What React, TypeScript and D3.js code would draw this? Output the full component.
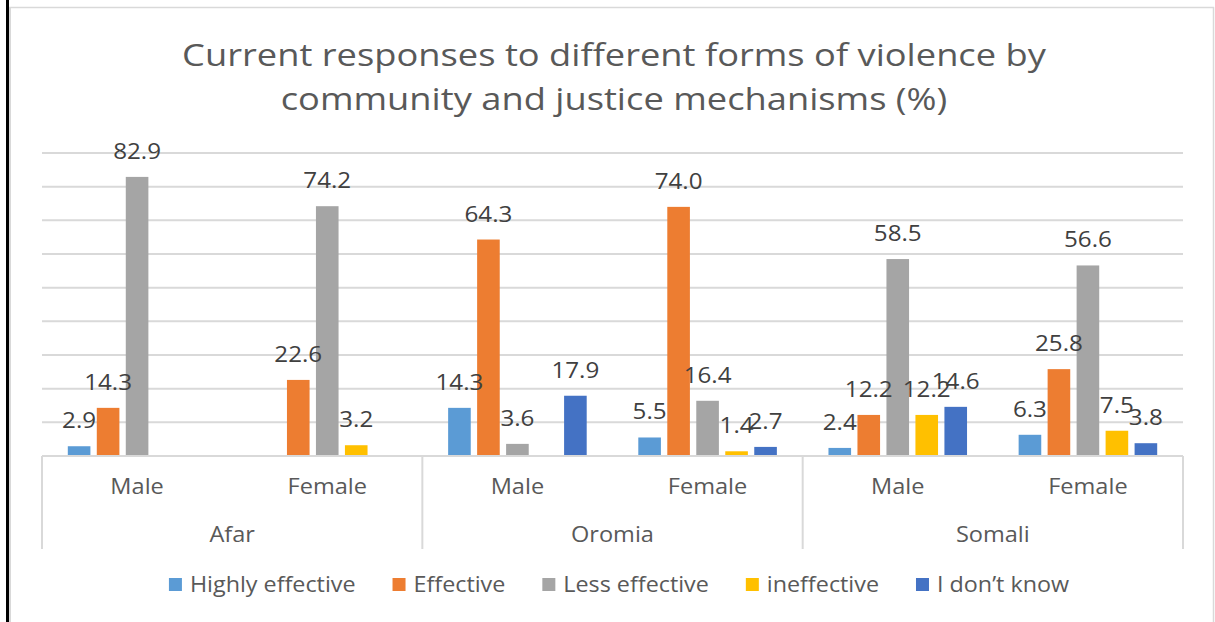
import React, { useEffect, useRef } from "react";
import * as d3 from "d3";

// Groups on the category axis: gender within region
const regions = ["Afar", "Oromia", "Somali"];
const genders = ["Male", "Female"];

// Response series, one value per region/gender group (null = no bar)
const seriesNames = ["Highly effective", "Effective", "Less effective", "ineffective", "I don\u2019t know"];
const highlyEffective = [2.9, null, 14.3, 5.5, 2.4, 6.3];
const effective = [14.3, 22.6, 64.3, 74.0, 12.2, 25.8];
const lessEffective = [82.9, 74.2, 3.6, 16.4, 58.5, 56.6];
const ineffective = [null, 3.2, null, 1.4, 12.2, 7.5];
const dontKnow = [null, null, 17.9, 2.7, 14.6, 3.8];
const seriesColors = ["#5B9BD5", "#ED7D31", "#A5A5A5", "#FFC000", "#4472C4"];
const yTicks = [0, 10, 20, 30, 40, 50, 60, 70, 80, 90];

const titleLines = [
  "Current responses to different forms of violence by",
  "community and justice mechanisms (%)",
];

const W = 1215;
const H = 622;
const FONT = "'Open Sans', 'Noto Sans', sans-serif";

// Widen a text element horizontally by factor k (keeps its anchor)
function widen(sel: d3.Selection<SVGTextElement, any, any, any>, k: number) {
  sel.each(function () {
    const len = this.getComputedTextLength();
    d3.select(this).attr("textLength", len * k).attr("lengthAdjust", "spacingAndGlyphs");
  });
}

export default function App() {
  const ref = useRef<SVGSVGElement | null>(null);

  useEffect(() => {
    const svg = d3.select(ref.current);
    svg.selectAll("*").remove();

    const plotLeft = 42;
    const plotRight = 1183;
    const baseY = 456;
    const topY = 153;

    const series = [highlyEffective, effective, lessEffective, ineffective, dontKnow];
    const groups: string[] = [];
    regions.forEach((r) => genders.forEach((g) => groups.push(`${r}|${g}`)));

    const x0 = d3.scaleBand<string>().domain(groups).range([plotLeft, plotRight]).padding(0);
    const x1 = d3
      .scaleBand<number>()
      .domain(d3.range(series.length))
      .range([0, x0.bandwidth()])
      .paddingInner(0.22)
      .paddingOuter(0.89);
    const y = d3.scaleLinear().domain([0, 90]).range([baseY, topY]);

    // Frame
    svg.append("rect").attr("x", 0).attr("y", 0).attr("width", W).attr("height", H).attr("fill", "#fff");
    svg.append("line").attr("x1", 8).attr("x2", 1214).attr("y1", 7.5).attr("y2", 7.5)
      .attr("stroke", "#d9d9d9").attr("stroke-width", 1.5);
    svg.append("line").attr("x1", 1213.5).attr("x2", 1213.5).attr("y1", 7).attr("y2", H)
      .attr("stroke", "#d9d9d9").attr("stroke-width", 1.5);
    svg.append("line").attr("x1", 10).attr("x2", 10).attr("y1", 7).attr("y2", H)
      .attr("stroke", "#d9d9d9").attr("stroke-width", 2);
    svg.append("line").attr("x1", 7.5).attr("x2", 7.5).attr("y1", 0).attr("y2", H)
      .attr("stroke", "#000").attr("stroke-width", 3);

    // Title
    const title = svg.append("g")
      .selectAll<SVGTextElement, string>("text")
      .data(titleLines)
      .join("text")
      .attr("x", 614)
      .attr("y", (_, i) => 66 + i * 44)
      .attr("text-anchor", "middle")
      .attr("font-family", FONT)
      .attr("font-size", 31)
      .attr("fill", "#595959")
      .text((d) => d);
    widen(title, 1.17);

    // Gridlines
    svg.append("g")
      .selectAll("line")
      .data(yTicks.filter((t) => t > 0))
      .join("line")
      .attr("x1", plotLeft)
      .attr("x2", plotRight)
      .attr("y1", (d) => y(d))
      .attr("y2", (d) => y(d))
      .attr("stroke", "#d9d9d9")
      .attr("stroke-width", 2);

    // Bars
    const barG = svg.append("g");
    series.forEach((vals, si) => {
      vals.forEach((v, gi) => {
        if (v == null) return;
        const bx = (x0(groups[gi]) as number) + (x1(si) as number);
        barG.append("rect")
          .attr("x", bx)
          .attr("y", y(v))
          .attr("width", x1.bandwidth())
          .attr("height", y(0) - y(v))
          .attr("fill", seriesColors[si]);
      });
    });

    // Category axis
    const axisG = svg.append("g");
    axisG.append("line").attr("x1", plotLeft).attr("x2", plotRight).attr("y1", baseY).attr("y2", baseY)
      .attr("stroke", "#d9d9d9").attr("stroke-width", 2);
    const regionW = (plotRight - plotLeft) / regions.length;
    d3.range(regions.length + 1).forEach((i) => {
      const xx = plotLeft + i * regionW;
      axisG.append("line").attr("x1", xx).attr("x2", xx).attr("y1", baseY).attr("y2", 549)
        .attr("stroke", "#d9d9d9").attr("stroke-width", 2);
    });
    groups.forEach((g) => {
      const t = axisG.append("text")
        .attr("x", (x0(g) as number) + x0.bandwidth() / 2)
        .attr("y", 494)
        .attr("text-anchor", "middle")
        .attr("font-family", FONT)
        .attr("font-size", 22)
        .attr("fill", "#595959")
        .text(g.split("|")[1]);
      widen(t, 1.07);
    });
    regions.forEach((r, i) => {
      const t = axisG.append("text")
        .attr("x", plotLeft + (i + 0.5) * regionW)
        .attr("y", 542)
        .attr("text-anchor", "middle")
        .attr("font-family", FONT)
        .attr("font-size", 22)
        .attr("fill", "#595959")
        .text(r);
      widen(t, 1.07);
    });

    // Data labels
    const labelG = svg.append("g");
    series.forEach((vals, si) => {
      vals.forEach((v, gi) => {
        if (v == null) return;
        const bx = (x0(groups[gi]) as number) + (x1(si) as number) + x1.bandwidth() / 2;
        const t = labelG.append("text")
          .attr("x", bx)
          .attr("y", y(v) - 18)
          .attr("text-anchor", "middle")
          .attr("font-family", FONT)
          .attr("font-size", 22)
          .attr("fill", "#404040")
          .text(v.toFixed(1));
        widen(t, 1.1);
      });
    });

    // Legend
    const legG = svg.append("g");
    const sq = 13;
    const textGap = 8;
    const itemGap = 37;
    let cursor = 0;
    const items = seriesNames.map((name, i) => {
      const it = legG.append("g");
      it.append("rect").attr("x", 0).attr("y", 578).attr("width", sq).attr("height", sq)
        .attr("fill", seriesColors[i]);
      const t = it.append("text")
        .attr("x", sq + textGap)
        .attr("y", 592)
        .attr("font-family", FONT)
        .attr("font-size", 21)
        .attr("fill", "#595959")
        .text(name);
      const tw = (t.node() as SVGTextElement).getComputedTextLength() * 1.11;
      widen(t, 1.11);
      const w = sq + textGap + tw;
      const ox = cursor;
      cursor += w + itemGap;
      return { it, ox };
    });
    const totalW = cursor - itemGap;
    const startX = 619 - totalW / 2;
    items.forEach(({ it, ox }) => it.attr("transform", `translate(${startX + ox},0)`));
  }, []);

  return (
    <svg
      ref={ref}
      width={W}
      height={H}
      style={{ position: "absolute", left: 0, top: 0 }}
    />
  );
}
